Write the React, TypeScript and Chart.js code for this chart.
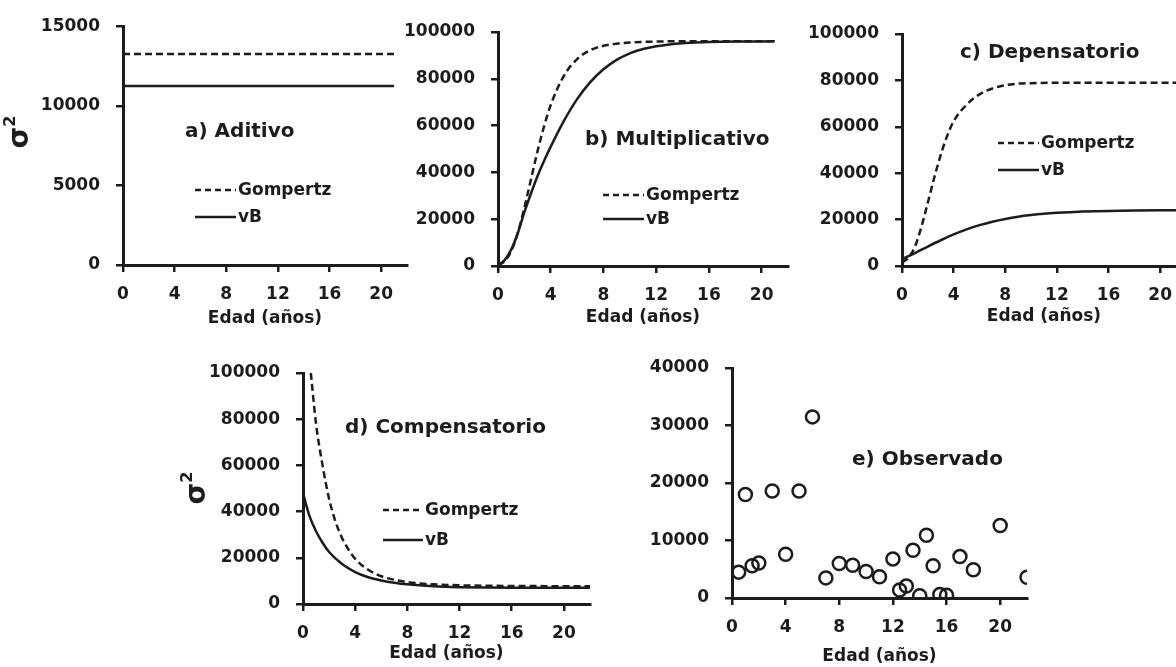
import React, { useEffect, useRef } from "react";
import { Chart, registerables } from "chart.js";
Chart.register(...registerables);

const FONT = "'DejaVu Sans', Verdana, sans-serif";
const INK = "#1c1c1c";

// ---------- data ----------
const xTitle = "Edad (años)";
const yTitleMain = "σ";
const yTitleSup = "2";
const seriesNames = ["Gompertz", "vB"];

// a) Aditivo
const ageA = [0, 21];
const gompA = [13250, 13250];
const vbA = [11250, 11250];

// b) Multiplicativo
const ageB = [0, 0.5, 1, 1.5, 2, 2.5, 3, 3.5, 4, 5, 6, 7, 8, 9, 10, 11, 12, 13, 14, 15, 16, 17, 18, 19, 20, 21];
const gompB = [400, 2000, 6300, 14100, 24900, 37000, 49100, 59800, 68800, 81300, 88400, 92200, 94100, 95000, 95500, 95800, 95900, 96000, 96000, 96000, 96000, 96000, 96000, 96000, 96000, 96000];
const vbB = [300, 2500, 7000, 14000, 23000, 31000, 38500, 45000, 51000, 62000, 71300, 78600, 84100, 88100, 90900, 92700, 93900, 94700, 95200, 95500, 95700, 95820, 95900, 95950, 95980, 96000];

// c) Depensatorio
const ageGompC = [0, 0.5, 1, 1.5, 2, 2.5, 3, 3.5, 4, 5, 6, 7, 8, 9, 10, 12, 14, 16, 18, 20, 22];
const gompC = [1500, 3500, 8300, 16800, 27300, 38100, 47900, 56100, 62400, 69500, 74000, 76500, 77900, 78600, 78800, 79000, 79000, 79000, 79000, 79000, 79000];
const ageVbC = [0, 1, 2, 3, 4, 5, 6, 7, 8, 9, 10, 11, 12, 13, 14, 15, 16, 18, 20, 22];
const vbC = [3000, 5600, 8400, 11100, 13600, 15800, 17600, 19100, 20300, 21250, 21950, 22500, 22900, 23200, 23450, 23620, 23750, 23900, 23980, 24000];

// d) Compensatorio
const ageGompD = [0.6, 1, 1.5, 2, 2.5, 3, 3.5, 4, 5, 6, 7, 8, 9, 10, 12, 14, 16, 18, 20, 22];
const gompD = [100000, 78000, 60000, 45500, 35500, 28500, 23500, 19500, 14800, 12000, 10500, 9500, 8900, 8500, 8100, 7900, 7800, 7750, 7700, 7700];
const ageVbD = [0, 0.5, 1, 1.5, 2, 3, 4, 5, 6, 7, 8, 10, 12, 14, 16, 18, 20, 22];
const vbD = [48000, 38000, 31500, 26500, 22500, 17300, 13800, 11600, 10200, 9200, 8500, 7700, 7300, 7100, 7000, 7000, 7000, 7000];

// e) Observado
const ageObs = [0.5, 1, 1.5, 2, 3, 4, 5, 6, 7, 8, 9, 10, 11, 12, 12.5, 13, 13.5, 14, 14.5, 15, 15.5, 16, 17, 18, 20, 22];
const varObs = [4500, 18000, 5600, 6100, 18600, 7600, 18600, 31500, 3500, 6000, 5700, 4600, 3700, 6800, 1400, 2100, 8300, 400, 10900, 5600, 600, 500, 7200, 4900, 12600, 3600];

const panelTitles = ["a) Aditivo", "b) Multiplicativo", "c) Depensatorio", "d) Compensatorio", "e) Observado"];

// ---------- helpers ----------
const pts = (xs: number[], ys: number[]) => xs.map((x, i) => ({ x, y: ys[i] }));

const lineDs = (label: string, xs: number[], ys: number[], dashed: boolean) => ({
  label,
  data: pts(xs, ys),
  borderColor: INK,
  borderWidth: 2.5,
  borderDash: dashed ? [7, 4] : [],
  pointRadius: 0,
  fill: false,
  cubicInterpolationMode: "monotone",
  showLine: true,
});

type Spec = {
  L: number; T: number; W: number; H: number;
  x0: number; x1: number; y0: number; y1: number;
  xMax: number; yMax: number; yStep: number;
  datasets: any[];
  title: string; tX: number; tY: number;
  legend?: { x0: number; x1: number; ys: number[] };
  yTitleAt?: { x: number; y: number };
  xTitleCenter: number;
};

function makeAnnot(s: Spec) {
  return {
    id: "annot",
    afterDraw(chart: any) {
      const ctx = chart.ctx as CanvasRenderingContext2D;
      ctx.save();
      ctx.fillStyle = INK;
      ctx.textAlign = "left";
      ctx.textBaseline = "middle";
      ctx.font = `bold 20px ${FONT}`;
      ctx.fillText(s.title, s.tX - s.L, s.tY - s.T);
      if (s.legend) {
        chart.data.datasets.forEach((ds: any, i: number) => {
          const y = s.legend!.ys[i] - s.T;
          ctx.beginPath();
          ctx.setLineDash(ds.borderDash && ds.borderDash.length ? [6, 4] : []);
          ctx.lineWidth = 2.5;
          ctx.strokeStyle = INK;
          ctx.moveTo(s.legend!.x0 - s.L, y);
          ctx.lineTo(s.legend!.x1 - s.L, y);
          ctx.stroke();
          ctx.setLineDash([]);
          ctx.font = `bold 17px ${FONT}`;
          ctx.fillText(ds.label, s.legend!.x1 - s.L + 2, y + 1);
        });
      }
      if (s.yTitleAt) {
        ctx.translate(s.yTitleAt.x - s.L, s.yTitleAt.y - s.T);
        ctx.rotate(-Math.PI / 2);
        ctx.textBaseline = "alphabetic";
        ctx.font = `bold 28px ${FONT}`;
        const w1 = ctx.measureText(yTitleMain).width;
        ctx.font = `bold 16px ${FONT}`;
        const w2 = ctx.measureText(yTitleSup).width;
        const start = -(w1 + w2) / 2;
        ctx.font = `bold 28px ${FONT}`;
        ctx.fillText(yTitleMain, start, 8);
        ctx.font = `bold 16px ${FONT}`;
        ctx.fillText(yTitleSup, start + w1, -5);
      }
      ctx.restore();
    },
  };
}

function makeConfig(s: Spec): any {
  const tickFont = { family: FONT, size: 17, weight: "bold" as const };
  const yScaleW = s.x0 - s.L;
  const xScaleH = s.T + s.H - s.y1;
  const xTitlePad = (s.T + s.H - s.xTitleCenter) - (17 * 1.2) / 2;
  const fmt = (v: any) => String(v);
  return {
    type: "line",
    data: { datasets: s.datasets },
    plugins: [makeAnnot(s)],
    options: {
      animation: false,
      responsive: false,
      devicePixelRatio: 1,
      layout: { padding: { top: s.y0 - s.T, left: 0, right: s.L + s.W - s.x1, bottom: 0 } },
      plugins: { legend: { display: false }, tooltip: { enabled: false } },
      scales: {
        x: {
          type: "linear",
          min: 0,
          max: s.xMax,
          ticks: { stepSize: 4, includeBounds: false, font: tickFont, color: INK, padding: 12, maxRotation: 0, autoSkip: false, callback: fmt },
          grid: { display: true, drawOnChartArea: false, drawTicks: true, tickLength: 7, color: INK, lineWidth: 2.5 },
          border: { display: true, color: INK, width: 3 },
          title: { display: true, text: xTitle, font: tickFont, color: INK, padding: { top: 0, bottom: xTitlePad } },
          afterFit: (sc: any) => { sc.height = xScaleH; },
        },
        y: {
          type: "linear",
          min: 0,
          max: s.yMax,
          ticks: { stepSize: s.yStep, font: tickFont, color: INK, padding: 16, callback: fmt },
          grid: { display: true, drawOnChartArea: false, drawTicks: true, tickLength: 7, color: INK, lineWidth: 2.5 },
          border: { display: true, color: INK, width: 3 },
          title: { display: false },
          afterFit: (sc: any) => { sc.width = yScaleW; },
        },
      },
    },
  };
}

const specs: Spec[] = [
  {
    L: 0, T: 0, W: 420, H: 335, x0: 123, x1: 407, y0: 24, y1: 265,
    xMax: 22, yMax: 15000, yStep: 5000,
    datasets: [lineDs(seriesNames[0], ageA, gompA, true), lineDs(seriesNames[1], ageA, vbA, false)],
    title: panelTitles[0], tX: 185, tY: 132,
    legend: { x0: 195, x1: 236, ys: [190, 217] },
    yTitleAt: { x: 20, y: 132 }, xTitleCenter: 319,
  },
  {
    L: 400, T: 0, W: 400, H: 335, x0: 498, x1: 788, y0: 32, y1: 266,
    xMax: 22, yMax: 100000, yStep: 20000,
    datasets: [lineDs(seriesNames[0], ageB, gompB, true), lineDs(seriesNames[1], ageB, vbB, false)],
    title: panelTitles[1], tX: 585, tY: 140,
    legend: { x0: 603, x1: 644, ys: [195, 219] },
    xTitleCenter: 318,
  },
  {
    L: 790, T: 0, W: 410, H: 335, x0: 902, x1: 1186, y0: 34, y1: 266,
    xMax: 22, yMax: 100000, yStep: 20000,
    datasets: [lineDs(seriesNames[0], ageGompC, gompC, true), lineDs(seriesNames[1], ageVbC, vbC, false)],
    title: panelTitles[2], tX: 960, tY: 53,
    legend: { x0: 998, x1: 1039, ys: [143, 170] },
    xTitleCenter: 317,
  },
  {
    L: 170, T: 340, W: 430, H: 327, x0: 303, x1: 590, y0: 373, y1: 604,
    xMax: 22, yMax: 100000, yStep: 20000,
    datasets: [lineDs(seriesNames[0], ageGompD, gompD, true), lineDs(seriesNames[1], ageVbD, vbD, false)],
    title: panelTitles[3], tX: 345, tY: 428,
    legend: { x0: 383, x1: 423, ys: [510, 540] },
    yTitleAt: { x: 197, y: 488 }, xTitleCenter: 654,
  },
  {
    L: 610, T: 340, W: 440, H: 327, x0: 732, x1: 1027, y0: 368, y1: 598,
    xMax: 22, yMax: 40000, yStep: 10000,
    datasets: [
      {
        label: "Observado",
        data: pts(ageObs, varObs),
        showLine: false,
        pointStyle: "circle",
        pointRadius: 6.5,
        pointBorderWidth: 2.5,
        pointBorderColor: INK,
        pointBackgroundColor: "rgba(0,0,0,0)",
        borderColor: INK,
        backgroundColor: "rgba(0,0,0,0)",
      },
    ],
    title: panelTitles[4], tX: 852, tY: 460,
    xTitleCenter: 657,
  },
];

function Panel({ spec }: { spec: Spec }) {
  const ref = useRef<HTMLCanvasElement | null>(null);
  useEffect(() => {
    if (!ref.current) return;
    const chart = new Chart(ref.current, makeConfig(spec));
    return () => chart.destroy();
  }, [spec]);
  return (
    <canvas
      ref={ref}
      width={spec.W}
      height={spec.H}
      style={{ position: "absolute", left: spec.L, top: spec.T, width: spec.W, height: spec.H }}
    />
  );
}

export default function App() {
  return (
    <div style={{ position: "fixed", left: 0, top: 0, width: 1176, height: 667, overflow: "hidden", background: "#fff" }}>
      {specs.map((s, i) => (
        <Panel key={i} spec={s} />
      ))}
    </div>
  );
}
